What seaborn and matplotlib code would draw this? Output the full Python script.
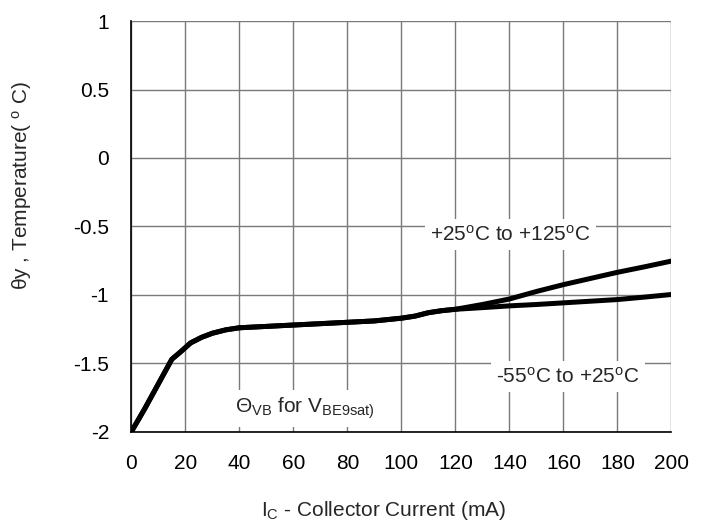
import pandas as pd
import seaborn as sns
import matplotlib.pyplot as plt

sns.set_style('white')
plt.rcParams['font.family'] = ['Liberation Sans', 'DejaVu Sans']
plt.rcParams['mathtext.fontset'] = 'custom'
plt.rcParams['mathtext.rm'] = 'Liberation Sans'
plt.rcParams['mathtext.it'] = 'Liberation Sans'
plt.rcParams['mathtext.default'] = 'regular'

# curve: common part then split after ~120 mA
current_common = [0, 5, 10, 15, 18, 22, 26, 30, 35, 40, 50, 60, 70, 80, 90, 100, 105, 110, 115, 120]
theta_common = [-2.0, -1.83, -1.65, -1.47, -1.42, -1.35, -1.31, -1.28, -1.255, -1.24, -1.23, -1.22,
                -1.21, -1.20, -1.19, -1.17, -1.155, -1.13, -1.115, -1.105]
current_tail = [130, 140, 150, 160, 170, 180, 190, 200]
theta_hot = [-1.07, -1.03, -0.975, -0.925, -0.88, -0.835, -0.795, -0.753]
theta_cold = [-1.093, -1.08, -1.07, -1.058, -1.046, -1.034, -1.016, -0.997]

series_names = ['+25 to +125', '-55 to +25']

rows = []
for name, tail in zip(series_names, [theta_hot, theta_cold]):
    for x, y in zip(current_common + current_tail, theta_common + tail):
        rows.append({'current': x, 'theta': y, 'range': name})
df = pd.DataFrame(rows)

fig = plt.figure(figsize=(7.06, 5.26), dpi=100)
ax = fig.add_axes([0.186, 0.179, 0.765, 0.781])

sns.lineplot(data=df, x='current', y='theta', units='range', estimator=None,
             color='black', linewidth=3.6, legend=False, ax=ax, zorder=3)

ax.set_xlim(0, 200)
ax.set_ylim(-2, 1)
ax.set_xticks(range(0, 201, 20))
ax.set_yticks([1, 0.5, 0, -0.5, -1, -1.5, -2])
ax.set_yticklabels(['1', '0.5', '0', '-0.5', '-1', '-1.5', '-2'])
ax.grid(True, color='#7a7a7a', linewidth=1.0)
ax.set_axisbelow(True)
for s in ['top', 'right']:
    ax.spines[s].set_visible(False)
for s in ['left', 'bottom']:
    ax.spines[s].set_color('black')
    ax.spines[s].set_linewidth(1.2)
ax.tick_params(direction='in', length=4, width=1, labelsize=15, colors='black', pad=16)

ax.set_xlabel('I$_C$ - Collector Current (mA)', fontsize=15)
ax.xaxis.set_label_coords(0.467, -0.163)
ax.set_ylabel('θy , Temperature( $^o$ C)', fontsize=15)
ax.yaxis.set_label_coords(-0.18, 0.60)

box = dict(facecolor='white', edgecolor='none', pad=4)
ax.text(140.4, -0.604, '+25$^o$C to +125$^o$C', fontsize=15, ha='center', va='baseline', bbox=box, zorder=2)
ax.text(161.7, -1.642, '-55$^o$C to +25$^o$C', fontsize=15, ha='center', va='baseline', bbox=box, zorder=2)
ax.text(64.4, -1.862, 'Θ$_{VB}$ for V$_{BE9sat)}$', fontsize=15, ha='center', va='baseline', bbox=box, zorder=2)

plt.savefig('out.png', dpi=100)
plt.close()
